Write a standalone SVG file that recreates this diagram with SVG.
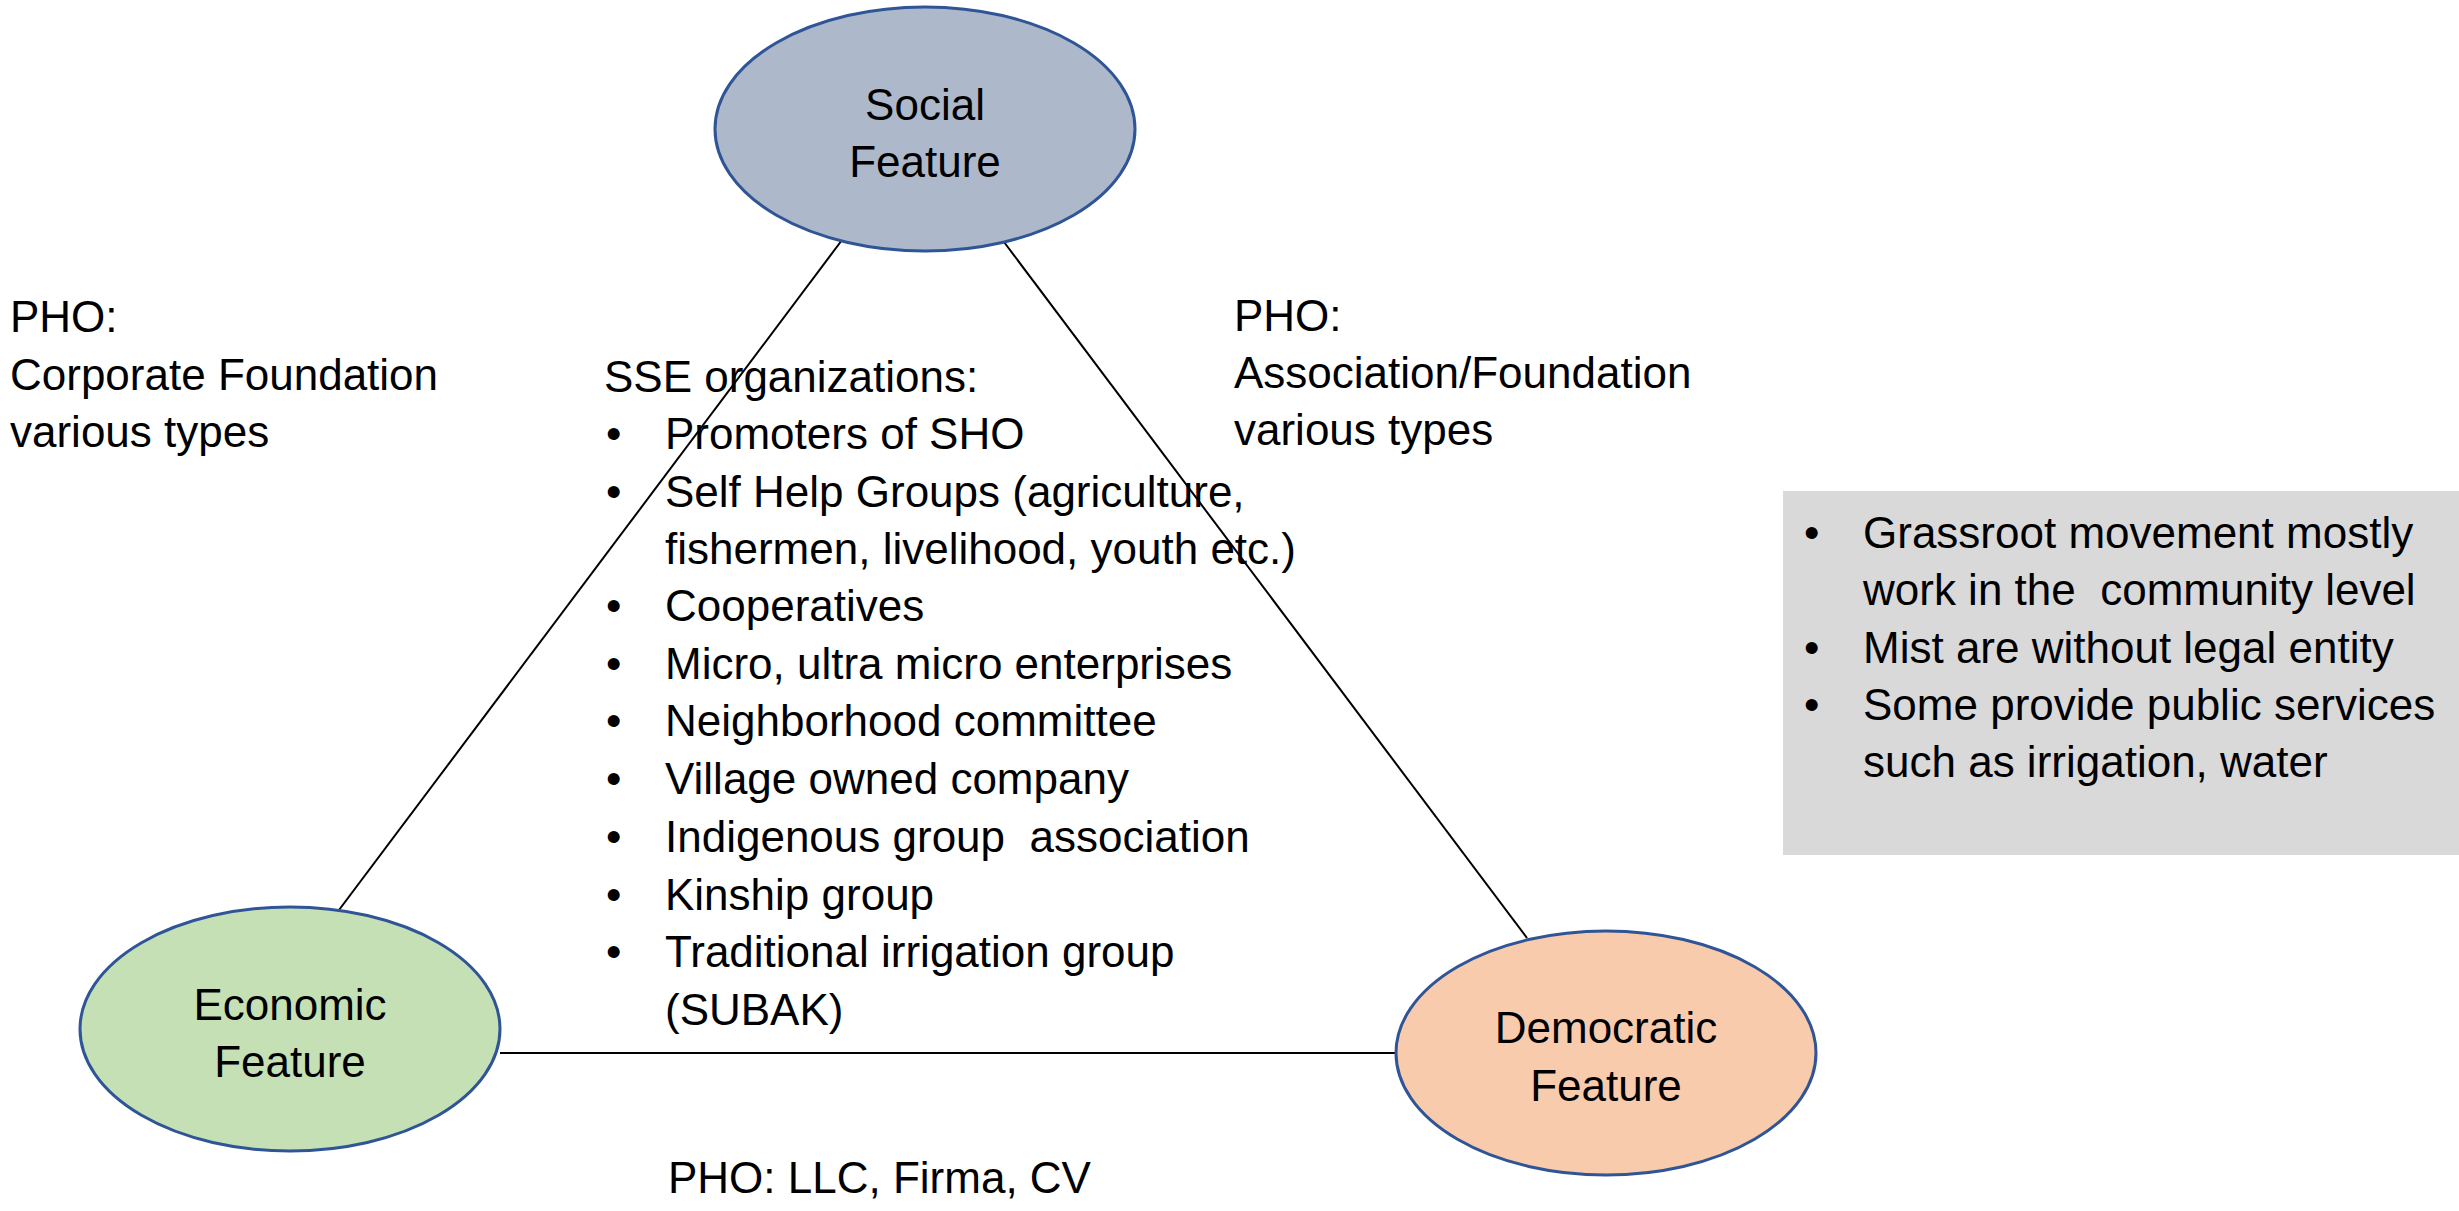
<svg xmlns="http://www.w3.org/2000/svg" width="2459" height="1211" viewBox="0 0 2459 1211">
<style>
text{font-family:"Liberation Sans",Arial,sans-serif;font-size:44px;fill:#000;white-space:pre}
.c{text-anchor:middle}
.node{stroke:#2F5597;stroke-width:3}
.edge{stroke:#000;stroke-width:2;fill:none}
</style>
<rect x="0" y="0" width="2459" height="1211" fill="#fff"/>
<g id="connectors">
<line class="edge" x1="842" y1="240" x2="339" y2="910"/>
<line class="edge" x1="1004" y1="242" x2="1527" y2="938"/>
<line class="edge" x1="500" y1="1053" x2="1396" y2="1053" stroke-width="3.5"/>
</g>
<g id="social">
<ellipse class="node" cx="925" cy="129" rx="210" ry="122" fill="#ADB9CA"/>
<text class="c" x="925" y="120">Social</text>
<text class="c" x="925" y="177">Feature</text>
</g>
<g id="economic">
<ellipse class="node" cx="290" cy="1029" rx="210" ry="122" fill="#C5E0B4"/>
<text class="c" x="290" y="1020">Economic</text>
<text class="c" x="290" y="1077">Feature</text>
</g>
<g id="democratic">
<ellipse class="node" cx="1606" cy="1053" rx="210" ry="122" fill="#F8CBAD"/>
<text class="c" x="1606" y="1043">Democratic</text>
<text class="c" x="1606" y="1101">Feature</text>
</g>
<g id="pho-left">
<text x="10" y="332">PHO:</text>
<text x="10" y="390">Corporate Foundation</text>
<text x="10" y="447">various types</text>
</g>
<g id="pho-right">
<text x="1234" y="331">PHO:</text>
<text x="1234" y="388">Association/Foundation</text>
<text x="1234" y="445">various types</text>
</g>
<g id="sse">
<text x="604" y="392">SSE organizations:</text>
<text x="606" y="449">•</text><text x="665" y="449">Promoters of SHO</text>
<text x="606" y="507">•</text><text x="665" y="507">Self Help Groups (agriculture,</text>
<text x="665" y="564">fishermen, livelihood, youth etc.)</text>
<text x="606" y="621">•</text><text x="665" y="621">Cooperatives</text>
<text x="606" y="679">•</text><text x="665" y="679">Micro, ultra micro enterprises</text>
<text x="606" y="736">•</text><text x="665" y="736">Neighborhood committee</text>
<text x="606" y="794">•</text><text x="665" y="794">Village owned company</text>
<text x="606" y="852">•</text><text x="665" y="852" xml:space="preserve">Indigenous group  association</text>
<text x="606" y="910">•</text><text x="665" y="910">Kinship group</text>
<text x="606" y="967">•</text><text x="665" y="967">Traditional irrigation group</text>
<text x="665" y="1025">(SUBAK)</text>
</g>
<g id="pho-bottom">
<text x="668" y="1193" font-size="42">PHO: LLC, Firma, CV</text>
</g>
<g id="grassroot">
<rect x="1783" y="491" width="676" height="364" fill="#D9D9D9"/>
<text x="1804" y="548">•</text><text x="1863" y="548">Grassroot movement mostly</text>
<text x="1863" y="605" xml:space="preserve">work in the  community level</text>
<text x="1804" y="663">•</text><text x="1863" y="663">Mist are without legal entity</text>
<text x="1804" y="720">•</text><text x="1863" y="720">Some provide public services</text>
<text x="1863" y="777">such as irrigation, water</text>
</g>
</svg>
